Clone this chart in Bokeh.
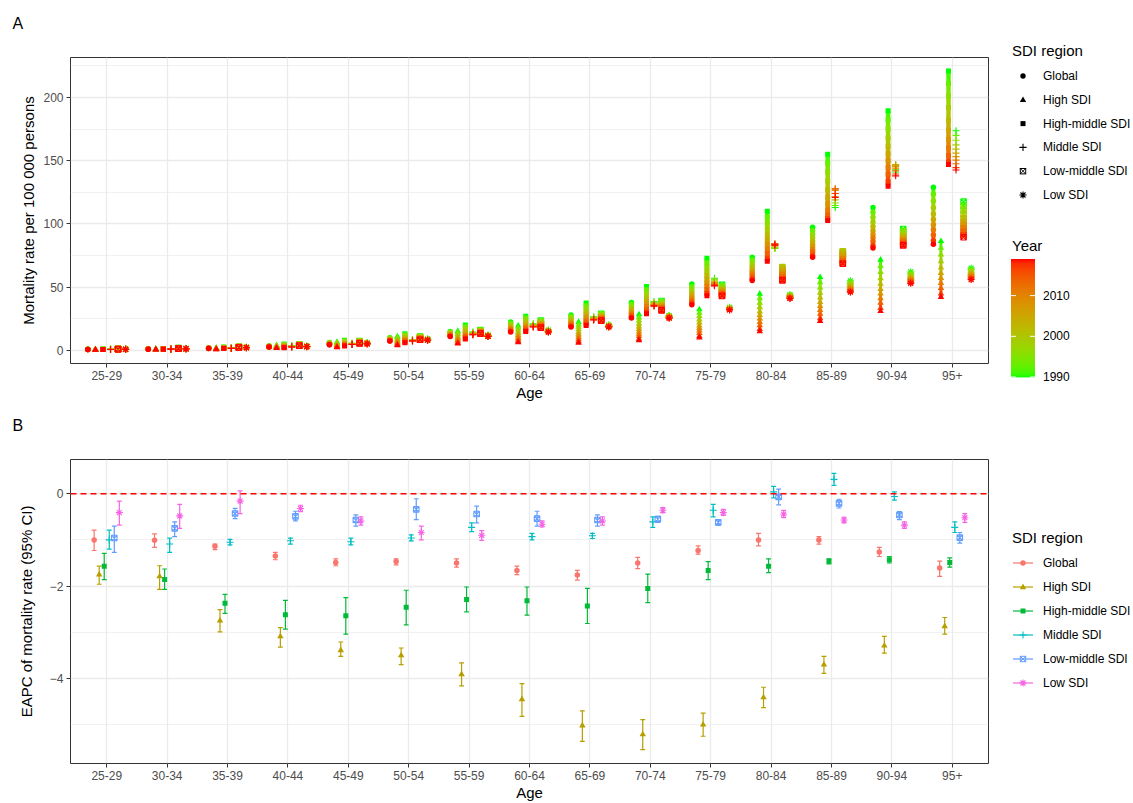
import numpy as np
import pandas as pd
from bokeh.plotting import figure
from bokeh.layouts import column, row
from bokeh.models import (FactorRange, Range1d, FixedTicker, ColumnDataSource, Span, Title,
                          LinearColorMapper, Div)
from bokeh.transform import dodge
from bokeh.embed import file_html
from bokeh.resources import INLINE

# ---------------- data ----------------
AGES = ["25-29", "30-34", "35-39", "40-44", "45-49", "50-54", "55-59", "60-64",
        "65-69", "70-74", "75-79", "80-84", "85-89", "90-94", "95+"]
REGIONS = ["Global", "High SDI", "High-middle SDI", "Middle SDI", "Low-middle SDI", "Low SDI"]
YEARS = [1990, 1993, 1996, 1999, 2002, 2005, 2008, 2011, 2014, 2017, 2019]

# mortality rate per 100 000, rows = AGES, columns = YEARS
RATE_GLOBAL = [
    [0.90, 0.86, 0.83, 0.79, 0.76, 0.73, 0.70, 0.68, 0.65, 0.62, 0.60],
    [1.30, 1.25, 1.20, 1.16, 1.11, 1.07, 1.04, 1.00, 0.96, 0.92, 0.90],
    [2.00, 1.94, 1.88, 1.82, 1.77, 1.72, 1.67, 1.63, 1.58, 1.53, 1.50],
    [3.50, 3.39, 3.28, 3.18, 3.08, 2.99, 2.91, 2.83, 2.74, 2.65, 2.60],
    [6.30, 6.07, 5.84, 5.62, 5.41, 5.22, 5.05, 4.88, 4.70, 4.51, 4.40],
    [10.0, 9.68, 9.35, 9.03, 8.73, 8.46, 8.22, 7.98, 7.73, 7.46, 7.30],
    [15.0, 14.5, 14.0, 13.6, 13.1, 12.7, 12.4, 12.0, 11.6, 11.2, 11.0],
    [22.4, 21.5, 20.5, 19.6, 18.7, 17.9, 17.2, 16.5, 15.8, 15.0, 14.5],
    [28.0, 26.8, 25.7, 24.5, 23.5, 22.5, 21.7, 20.8, 19.9, 19.0, 18.4],
    [37.9, 36.4, 34.9, 33.4, 32.1, 30.8, 29.7, 28.6, 27.5, 26.2, 25.5],
    [52.4, 50.4, 48.5, 46.5, 44.7, 43.1, 41.6, 40.1, 38.6, 37.0, 36.0],
    [73.7, 71.5, 69.3, 67.1, 65.1, 63.2, 61.6, 59.9, 58.2, 56.4, 55.3],
    [97.4, 94.6, 91.7, 88.9, 86.3, 83.9, 81.8, 79.6, 77.5, 75.1, 73.7],
    [113.0, 109.2, 105.3, 101.5, 98.0, 94.8, 91.9, 89.0, 86.1, 82.9, 81.0],
    [129.0, 123.6, 118.2, 112.8, 107.9, 103.4, 99.3, 95.3, 91.2, 86.7, 84.0],
]
RATE_HIGH = [
    [0.70, 0.66, 0.63, 0.59, 0.56, 0.53, 0.50, 0.48, 0.45, 0.42, 0.40],
    [1.00, 0.95, 0.90, 0.86, 0.81, 0.77, 0.74, 0.70, 0.66, 0.62, 0.60],
    [1.80, 1.68, 1.56, 1.44, 1.33, 1.23, 1.14, 1.05, 0.96, 0.86, 0.80],
    [4.00, 3.74, 3.47, 3.21, 2.97, 2.75, 2.55, 2.35, 2.15, 1.93, 1.80],
    [6.60, 6.08, 5.57, 5.05, 4.58, 4.15, 3.76, 3.38, 2.99, 2.56, 2.30],
    [11.0, 10.2, 9.3, 8.5, 7.7, 7.0, 6.4, 5.8, 5.1, 4.4, 4.0],
    [15.3, 14.1, 12.9, 11.7, 10.6, 9.6, 8.7, 7.8, 6.9, 5.9, 5.3],
    [19.5, 17.9, 16.3, 14.7, 13.3, 12.0, 10.8, 9.6, 8.4, 7.1, 6.3],
    [22.4, 20.4, 18.5, 16.5, 14.7, 13.1, 11.6, 10.1, 8.6, 7.0, 6.0],
    [28.4, 25.9, 23.5, 21.0, 18.8, 16.7, 14.9, 13.0, 11.2, 9.1, 7.9],
    [32.4, 29.7, 27.0, 24.3, 21.9, 19.6, 17.6, 15.6, 13.6, 11.3, 10.0],
    [44.7, 41.1, 37.6, 34.0, 30.7, 27.8, 25.1, 22.4, 19.7, 16.8, 15.0],
    [57.9, 53.7, 49.6, 45.4, 41.6, 38.1, 35.0, 31.9, 28.8, 25.3, 23.2],
    [71.6, 66.7, 61.9, 57.0, 52.5, 48.4, 44.8, 41.2, 37.5, 33.4, 31.0],
    [86.3, 81.0, 75.7, 70.4, 65.5, 61.1, 57.1, 53.2, 49.2, 44.8, 42.1],
]
RATE_HIGH_MIDDLE = [
    [1.00, 0.95, 0.90, 0.86, 0.81, 0.77, 0.74, 0.70, 0.66, 0.62, 0.60],
    [1.50, 1.43, 1.36, 1.28, 1.22, 1.16, 1.10, 1.05, 1.00, 0.94, 0.90],
    [2.60, 2.46, 2.31, 2.17, 2.04, 1.92, 1.81, 1.70, 1.59, 1.47, 1.40],
    [5.00, 4.64, 4.28, 3.92, 3.59, 3.29, 3.02, 2.75, 2.48, 2.18, 2.00],
    [8.00, 7.46, 6.92, 6.38, 5.89, 5.44, 5.03, 4.63, 4.22, 3.77, 3.50],
    [13.2, 12.3, 11.5, 10.6, 9.8, 9.1, 8.4, 7.8, 7.2, 6.4, 6.0],
    [20.0, 18.7, 17.4, 16.0, 14.8, 13.7, 12.7, 11.8, 10.8, 9.7, 9.0],
    [27.0, 25.6, 24.1, 22.7, 21.4, 20.2, 19.1, 18.0, 16.9, 15.7, 15.0],
    [37.4, 35.3, 33.2, 31.0, 29.1, 27.3, 25.7, 24.1, 22.5, 20.8, 19.7],
    [50.5, 47.9, 45.3, 42.8, 40.4, 38.2, 36.3, 34.4, 32.4, 30.3, 29.0],
    [72.9, 69.3, 65.8, 62.2, 58.9, 56.0, 53.3, 50.6, 47.9, 45.0, 43.2],
    [110.0, 105.3, 100.5, 95.8, 91.4, 87.5, 83.9, 80.4, 76.8, 72.9, 70.5],
    [155.0, 148.0, 141.0, 134.0, 127.0, 121.0, 116.0, 111.0, 107.0, 104.0, 102.6],
    [189.5, 182.3, 175.1, 168.0, 161.4, 155.4, 150.0, 144.6, 139.3, 133.3, 129.7],
    [221.0, 211.0, 201.0, 192.0, 182.0, 174.0, 167.0, 160.0, 154.0, 149.0, 147.0],
]
RATE_MIDDLE = [
    [0.90, 0.87, 0.84, 0.81, 0.78, 0.76, 0.74, 0.71, 0.69, 0.67, 0.65],
    [1.30, 1.26, 1.22, 1.17, 1.14, 1.10, 1.07, 1.04, 1.01, 0.97, 0.95],
    [2.00, 1.94, 1.88, 1.82, 1.77, 1.72, 1.67, 1.63, 1.58, 1.53, 1.50],
    [3.50, 3.40, 3.31, 3.21, 3.12, 3.04, 2.97, 2.90, 2.83, 2.75, 2.70],
    [5.60, 5.48, 5.36, 5.24, 5.13, 5.03, 4.94, 4.85, 4.76, 4.66, 4.60],
    [8.60, 8.46, 8.31, 8.17, 8.04, 7.92, 7.81, 7.70, 7.59, 7.47, 7.40],
    [14.5, 14.2, 14.0, 13.7, 13.5, 13.2, 13.0, 12.9, 12.7, 12.4, 12.3],
    [21.0, 20.7, 20.4, 20.1, 19.8, 19.6, 19.4, 19.1, 18.9, 18.7, 18.5],
    [26.5, 26.2, 25.9, 25.6, 25.3, 25.1, 24.9, 24.6, 24.4, 24.2, 24.0],
    [38.5, 38.1, 37.7, 37.2, 36.9, 36.5, 36.2, 35.9, 35.6, 35.2, 35.0],
    [57.0, 56.3, 55.6, 54.8, 54.2, 53.6, 53.0, 52.5, 52.0, 51.4, 51.0],
    [81.0, 80.5, 80.8, 81.5, 82.3, 83.0, 83.7, 84.2, 84.3, 83.8, 83.2],
    [113.0, 114.5, 116.5, 119.0, 121.5, 124.0, 126.5, 128.0, 127.5, 124.0, 121.0],
    [141.0, 143.0, 145.0, 146.5, 147.0, 146.5, 145.5, 144.0, 142.0, 139.5, 138.0],
    [173.7, 170.0, 166.2, 162.5, 159.1, 156.0, 153.2, 150.4, 147.6, 144.5, 142.6],
]
RATE_LOW_MIDDLE = [
    [1.20, 1.16, 1.13, 1.09, 1.06, 1.03, 1.00, 0.98, 0.95, 0.92, 0.90],
    [1.80, 1.75, 1.70, 1.66, 1.61, 1.57, 1.54, 1.50, 1.46, 1.42, 1.40],
    [2.80, 2.74, 2.68, 2.62, 2.57, 2.52, 2.47, 2.43, 2.38, 2.33, 2.30],
    [4.80, 4.66, 4.51, 4.37, 4.24, 4.12, 4.01, 3.90, 3.79, 3.67, 3.60],
    [7.40, 7.17, 6.94, 6.72, 6.51, 6.32, 6.15, 5.98, 5.80, 5.61, 5.50],
    [11.0, 10.7, 10.4, 10.1, 9.8, 9.5, 9.3, 9.1, 8.8, 8.6, 8.4],
    [16.0, 15.7, 15.3, 15.0, 14.7, 14.4, 14.2, 13.9, 13.6, 13.4, 13.2],
    [23.5, 22.8, 22.2, 21.5, 20.9, 20.4, 19.9, 19.4, 18.9, 18.3, 18.0],
    [29.0, 28.3, 27.7, 27.0, 26.4, 25.9, 25.4, 24.9, 24.4, 23.8, 23.5],
    [39.0, 38.1, 37.2, 36.3, 35.5, 34.8, 34.1, 33.5, 32.8, 32.0, 31.6],
    [51.8, 50.7, 49.7, 48.6, 47.7, 46.8, 46.0, 45.2, 44.4, 43.5, 43.0],
    [60.0, 62.0, 64.5, 65.8, 65.0, 63.5, 61.5, 59.5, 57.5, 56.0, 55.3],
    [75.0, 76.0, 77.5, 78.4, 77.5, 76.0, 74.0, 72.0, 70.5, 69.0, 68.5],
    [96.0, 94.4, 92.9, 91.3, 89.9, 88.6, 87.4, 86.3, 85.1, 83.8, 83.0],
    [117.6, 114.2, 110.9, 107.5, 104.4, 101.6, 99.1, 96.5, 94.0, 91.2, 89.5],
]
RATE_LOW = [
    [1.00, 0.98, 0.95, 0.93, 0.91, 0.89, 0.87, 0.85, 0.83, 0.81, 0.80],
    [1.50, 1.46, 1.43, 1.39, 1.36, 1.33, 1.30, 1.28, 1.25, 1.22, 1.20],
    [2.40, 2.36, 2.33, 2.29, 2.26, 2.23, 2.20, 2.18, 2.15, 2.12, 2.10],
    [3.30, 3.25, 3.20, 3.16, 3.11, 3.07, 3.04, 3.00, 2.96, 2.92, 2.90],
    [6.00, 5.89, 5.78, 5.68, 5.58, 5.49, 5.41, 5.33, 5.24, 5.15, 5.10],
    [9.00, 8.88, 8.76, 8.64, 8.53, 8.43, 8.34, 8.25, 8.16, 8.06, 8.00],
    [12.0, 11.9, 11.8, 11.6, 11.5, 11.4, 11.3, 11.3, 11.2, 11.1, 11.0],
    [16.0, 15.8, 15.6, 15.5, 15.3, 15.1, 15.0, 14.9, 14.7, 14.6, 14.5],
    [20.0, 19.8, 19.6, 19.5, 19.3, 19.1, 19.0, 18.9, 18.7, 18.6, 18.5],
    [27.5, 27.3, 27.0, 26.8, 26.6, 26.4, 26.2, 26.0, 25.8, 25.6, 25.5],
    [34.0, 33.8, 33.5, 33.3, 33.1, 32.9, 32.7, 32.5, 32.3, 32.1, 32.0],
    [44.0, 43.6, 43.3, 42.9, 42.6, 42.3, 42.0, 41.8, 41.5, 41.2, 41.0],
    [55.0, 53.9, 52.8, 51.8, 50.8, 49.9, 49.1, 48.3, 47.4, 46.5, 46.0],
    [62.0, 60.9, 59.8, 58.8, 57.8, 56.9, 56.1, 55.3, 54.4, 53.5, 53.0],
    [65.0, 63.9, 62.8, 61.8, 60.8, 59.9, 59.1, 58.3, 57.4, 56.5, 56.0],
]

# EAPC (%) with 95% CI, one value per age group
EAPC_GLOBAL = [-1.00, -1.01, -1.14, -1.35, -1.49, -1.47, -1.50, -1.66, -1.76, -1.50, -1.23, -1.00, -1.00, -1.26, -1.61]
LOW_GLOBAL = [-1.23, -1.16, -1.21, -1.43, -1.56, -1.54, -1.59, -1.75, -1.87, -1.62, -1.31, -1.13, -1.09, -1.36, -1.79]
UP_GLOBAL = [-0.79, -0.87, -1.09, -1.27, -1.41, -1.41, -1.41, -1.57, -1.66, -1.38, -1.13, -0.86, -0.93, -1.16, -1.46]
EAPC_HIGH = [-1.75, -1.79, -2.75, -3.09, -3.39, -3.50, -3.91, -4.45, -5.02, -5.21, -5.00, -4.41, -3.70, -3.29, -2.87]
LOW_HIGH = [-1.96, -2.07, -2.99, -3.32, -3.52, -3.70, -4.16, -4.82, -5.36, -5.54, -5.25, -4.63, -3.89, -3.45, -3.04]
UP_HIGH = [-1.57, -1.56, -2.51, -2.90, -3.21, -3.34, -3.66, -4.11, -4.70, -4.89, -4.75, -4.19, -3.52, -3.09, -2.68]
EAPC_HIGH_MIDDLE = [-1.57, -1.86, -2.37, -2.62, -2.64, -2.46, -2.29, -2.32, -2.43, -2.05, -1.66, -1.57, -1.46, -1.43, -1.49]
LOW_HIGH_MIDDLE = [-1.86, -2.07, -2.59, -2.93, -3.04, -2.84, -2.56, -2.63, -2.81, -2.36, -1.86, -1.71, -1.52, -1.50, -1.59]
UP_HIGH_MIDDLE = [-1.29, -1.63, -2.18, -2.31, -2.25, -2.09, -2.02, -2.02, -2.05, -1.74, -1.47, -1.41, -1.41, -1.36, -1.39]
EAPC_MIDDLE = [-1.00, -1.09, -1.05, -1.02, -1.04, -0.96, -0.73, -0.93, -0.91, -0.61, -0.36, 0.04, 0.31, -0.06, -0.73]
LOW_MIDDLE = [-1.20, -1.27, -1.11, -1.09, -1.11, -1.02, -0.82, -1.00, -0.97, -0.73, -0.50, -0.09, 0.18, -0.14, -0.84]
UP_MIDDLE = [-0.79, -0.96, -0.99, -0.96, -0.96, -0.89, -0.63, -0.86, -0.86, -0.50, -0.23, 0.16, 0.44, 0.04, -0.61]
EAPC_LOW_MIDDLE = [-0.96, -0.75, -0.43, -0.49, -0.57, -0.34, -0.44, -0.54, -0.57, -0.55, -0.62, -0.07, -0.21, -0.46, -0.95]
LOW_LOW_MIDDLE = [-1.27, -0.93, -0.54, -0.59, -0.70, -0.56, -0.63, -0.70, -0.70, -0.62, -0.68, -0.24, -0.31, -0.56, -1.07]
UP_LOW_MIDDLE = [-0.70, -0.61, -0.32, -0.38, -0.46, -0.11, -0.27, -0.38, -0.46, -0.49, -0.57, 0.10, -0.12, -0.39, -0.84]
EAPC_LOW = [-0.41, -0.48, -0.16, -0.32, -0.59, -0.84, -0.90, -0.66, -0.59, -0.36, -0.41, -0.44, -0.57, -0.68, -0.52]
LOW_LOW = [-0.68, -0.75, -0.43, -0.39, -0.68, -1.00, -1.01, -0.72, -0.68, -0.41, -0.47, -0.52, -0.63, -0.75, -0.62]
UP_LOW = [-0.16, -0.23, 0.06, -0.25, -0.50, -0.70, -0.80, -0.59, -0.50, -0.30, -0.34, -0.36, -0.51, -0.61, -0.43]

YEAR_TICKS = [1990, 2000, 2010]

# ---------------- styling ----------------
FONT = "Liberation Sans"
MARKERS = ["circle", "triangle", "square", "cross", "square_x", "asterisk"]
SIZES = [5.5, 6.5, 5.0, 7.0, 5.5, 7.0]
STEM_W = [4.0, 3.0, 4.5, 1.1, 4.5, 1.1]      # width of the year-to-year stems in panel A
OUTLINE_ONLY = ("cross", "asterisk", "square_x")
HUES = ["#F8766D", "#B79F00", "#00BA38", "#00BFC4", "#619CFF", "#F564E3"]
RATES = [RATE_GLOBAL, RATE_HIGH, RATE_HIGH_MIDDLE, RATE_MIDDLE, RATE_LOW_MIDDLE, RATE_LOW]
EAPCS = [EAPC_GLOBAL, EAPC_HIGH, EAPC_HIGH_MIDDLE, EAPC_MIDDLE, EAPC_LOW_MIDDLE, EAPC_LOW]
LOWS = [LOW_GLOBAL, LOW_HIGH, LOW_HIGH_MIDDLE, LOW_MIDDLE, LOW_LOW_MIDDLE, LOW_LOW]
UPS = [UP_GLOBAL, UP_HIGH, UP_HIGH_MIDDLE, UP_MIDDLE, UP_LOW_MIDDLE, UP_LOW]

# green -> red gradient interpolated in CIE Lab (like ggplot2)
_M = np.array([[0.4124564, 0.3575761, 0.1804375],
               [0.2126729, 0.7151522, 0.0721750],
               [0.0193339, 0.1191920, 0.9503041]])
_WHITE = np.array([0.95047, 1.0, 1.08883])
_D = 6 / 29


def to_lab(rgb):
    c = np.array(rgb, dtype=float) / 255.0
    lin = np.where(c <= 0.04045, c / 12.92, ((c + 0.055) / 1.055) ** 2.4)
    xyz = (_M @ lin) / _WHITE
    f = np.where(xyz > _D ** 3, np.cbrt(xyz), xyz / (3 * _D * _D) + 4 / 29)
    return np.array([116 * f[1] - 16, 500 * (f[0] - f[1]), 200 * (f[1] - f[2])])


def to_hex(lab):
    L, a, b = lab
    fy = (L + 16) / 116
    f = np.array([fy + a / 500, fy, fy - b / 200])
    xyz = np.where(f > _D, f ** 3, 3 * _D * _D * (f - 4 / 29)) * _WHITE
    lin = np.clip(np.linalg.inv(_M) @ xyz, 0, 1)
    c = np.where(lin <= 0.0031308, 12.92 * lin, 1.055 * lin ** (1 / 2.4) - 0.055)
    c = np.clip(c, 0, 1)
    return "#%02x%02x%02x" % tuple(int(round(v * 255)) for v in c)


_lo, _hi = to_lab((0, 255, 0)), to_lab((255, 0, 0))
PALETTE = [to_hex(_lo + (_hi - _lo) * t) for t in np.linspace(0, 1, 256)]
YEAR_MAPPER = LinearColorMapper(palette=PALETTE, low=1990, high=2019)

MAIN_W = 989      # frame 70..988
LEG_W = 1133 - MAIN_W


def make_main(height, ylab, yr, ticks, minor, border_top, border_bottom, tag, ylab_standoff):
    p = figure(width=MAIN_W, height=height,
               x_range=FactorRange(factors=AGES, range_padding=0.1, range_padding_units="absolute"),
               y_range=Range1d(*yr), toolbar_location=None, output_backend="svg",
               min_border_left=70, min_border_right=1, min_border_top=border_top,
               min_border_bottom=border_bottom)
    p.add_layout(Title(text=" ", text_font_size="8px"), "above")
    p.add_layout(Title(text=tag, text_font=FONT, text_font_size="16px", text_font_style="normal",
                       text_color="black", align="left", offset=-58), "above")
    p.outline_line_color = "#333333"
    p.outline_line_width = 1
    p.xgrid.grid_line_color = "#EBEBEB"
    p.xgrid.grid_line_width = 1.3
    p.ygrid.grid_line_color = "#EBEBEB"
    p.ygrid.grid_line_width = 1.3
    p.ygrid.minor_grid_line_color = "#EBEBEB"
    p.ygrid.minor_grid_line_width = 0.7
    p.yaxis.ticker = FixedTicker(ticks=ticks, minor_ticks=minor)
    for ax in (p.xaxis[0], p.yaxis[0]):
        ax.axis_line_color = None
        ax.major_tick_line_color = "#333333"
        ax.major_tick_in = 0
        ax.major_tick_out = 4
        ax.minor_tick_line_color = None
        ax.major_label_text_font = FONT
        ax.major_label_text_font_size = "12px"
        ax.major_label_text_color = "#4D4D4D"
        ax.major_label_standoff = 3
        ax.axis_label_text_font = FONT
        ax.axis_label_text_font_size = "15px"
        ax.axis_label_text_font_style = "normal"
        ax.axis_label_text_color = "black"
    p.xaxis.axis_label = "Age"
    p.xaxis.axis_label_standoff = 1
    p.yaxis.axis_label = ylab
    p.yaxis.axis_label_standoff = ylab_standoff
    return p


# ---------- legend drawing (inline SVG, coordinates local to the legend box) ----------
def svg_text(x, y, s, size):
    return (f'<text x="{x}" y="{y}" font-family="{FONT}" font-size="{size}px" fill="black" '
            f'dominant-baseline="central">{s}</text>')


def svg_marker(kind, cx, cy, color):
    if kind == "circle":
        return f'<circle cx="{cx}" cy="{cy}" r="2.7" fill="{color}"/>'
    if kind == "triangle":
        return (f'<polygon points="{cx},{cy - 3.4} {cx - 3.2},{cy + 2.2} {cx + 3.2},{cy + 2.2}" '
                f'fill="{color}"/>')
    if kind == "square":
        return f'<rect x="{cx - 2.5}" y="{cy - 2.5}" width="5" height="5" fill="{color}"/>'
    if kind == "cross":
        return (f'<path d="M{cx - 3.6},{cy} H{cx + 3.6} M{cx},{cy - 3.6} V{cy + 3.6}" '
                f'stroke="{color}" stroke-width="1.1" fill="none"/>')
    if kind == "square_x":
        return (f'<rect x="{cx - 2.7}" y="{cy - 2.7}" width="5.4" height="5.4" stroke="{color}" '
                f'stroke-width="1" fill="none"/>'
                f'<path d="M{cx - 2.7},{cy - 2.7} L{cx + 2.7},{cy + 2.7} M{cx - 2.7},{cy + 2.7} '
                f'L{cx + 2.7},{cy - 2.7}" stroke="{color}" stroke-width="0.9"/>')
    d = 2.5
    return (f'<path d="M{cx - 3.6},{cy} H{cx + 3.6} M{cx},{cy - 3.6} V{cy + 3.6} '
            f'M{cx - d},{cy - d} L{cx + d},{cy + d} M{cx - d},{cy + d} L{cx + d},{cy - d}" '
            f'stroke="{color}" stroke-width="1.1" fill="none"/>')


def legend_div(height, parts):
    body = "".join(parts)
    html = (f'<svg xmlns="http://www.w3.org/2000/svg" width="{LEG_W}" height="{height}" '
            f'style="display:block">{body}</svg>')
    return Div(text=html, width=LEG_W, height=height, margin=(0, 0, 0, 0))


X0 = MAIN_W  # page x of the legend box's left edge

# ---------------- Panel A ----------------
pA = make_main(405, "Mortality rate per 100 000 persons", (-10.4, 231.6),
               [0, 50, 100, 150, 200], [25, 75, 125, 175, 225], 57, 42, "A", 3)
cmap_year = {"field": "year", "transform": YEAR_MAPPER}
cmap_mid = {"field": "ymid", "transform": YEAR_MAPPER}
for i, (rate, mk, sz, sw) in enumerate(zip(RATES, MARKERS, SIZES, STEM_W)):
    off = (i - 2.5) * 0.75 / 6
    xpos = dodge("age", off, range=pA.x_range)
    # stems joining consecutive years of the same series
    stems = pd.DataFrame([(AGES[a], rate[a][k], rate[a][k + 1], (YEARS[k] + YEARS[k + 1]) / 2)
                          for k in range(len(YEARS) - 1) for a in range(len(AGES))],
                         columns=["age", "v0", "v1", "ymid"])
    pA.segment(x0=xpos, x1=xpos, y0="v0", y1="v1", source=ColumnDataSource(stems),
               line_color=cmap_mid, line_width=sw, line_cap="butt")
    pts = pd.DataFrame([(AGES[a], YEARS[k], rate[a][k]) for k in range(len(YEARS)) for a in range(len(AGES))],
                       columns=["age", "year", "rate"])
    src = ColumnDataSource(pts)
    if mk in OUTLINE_ONLY:
        pA.scatter(x=xpos, y="rate", source=src, marker=mk, size=sz,
                   line_color=cmap_year, fill_color=None, line_width=1.1)
    else:
        pA.scatter(x=xpos, y="rate", source=src, marker=mk, size=sz,
                   line_color=None, fill_color=cmap_year)

partsA = [svg_text(1012 - X0, 50, "SDI region", 15)]
for k, (name, mk) in enumerate(zip(REGIONS, MARKERS)):
    yy = 76 + 23.8 * k
    partsA.append(svg_marker(mk, 1023 - X0, round(yy, 1), "black"))
    partsA.append(svg_text(1043 - X0, round(yy, 1), name, 12))
partsA.append(svg_text(1012 - X0, 245, "Year", 15))
bar_top, bar_bot = 259.0, 377.0
n_slices = 118
for s in range(n_slices):
    frac = (s + 0.5) / n_slices          # 0 at bottom (1990) .. 1 at top (2019)
    col = PALETTE[int(round(frac * 255))]
    y = bar_bot - (s + 1) * (bar_bot - bar_top) / n_slices
    partsA.append(f'<rect x="{1011 - X0}" y="{y:.2f}" width="24" height="{(bar_bot - bar_top) / n_slices + 0.4:.2f}" '
                  f'fill="{col}"/>')
for t in YEAR_TICKS:
    ty = bar_bot - (t - 1990) / (2019 - 1990) * (bar_bot - bar_top)
    partsA.append(f'<path d="M{1011 - X0},{ty:.1f} h5 M{1030 - X0},{ty:.1f} h5" stroke="white" stroke-width="1"/>')
    partsA.append(svg_text(1043 - X0, round(ty, 1), str(t), 12))
legA = legend_div(405, partsA)

# ---------------- Panel B ----------------
pB = make_main(398, "EAPC of mortality rate (95% CI)", (-5.84, 0.74),
               [-4, -2, 0], [-5, -3, -1], 54, 38, "B", 12)
pB.add_layout(Span(location=0, dimension="width", line_color="#FF0000", line_dash="6 4", line_width=1.5))
for i, (ea, lo, up, col, mk, sz) in enumerate(zip(EAPCS, LOWS, UPS, HUES, MARKERS, SIZES)):
    off = (i - 2.5) * 0.5 / 6
    src = ColumnDataSource(dict(age=AGES, eapc=ea, lo=lo, up=up))
    xc = dodge("age", off, range=pB.x_range)
    xl = dodge("age", off - 0.04, range=pB.x_range)
    xr = dodge("age", off + 0.04, range=pB.x_range)
    pB.segment(x0=xc, x1=xc, y0="lo", y1="up", source=src, line_color=col, line_width=1.2)
    pB.segment(x0=xl, x1=xr, y0="lo", y1="lo", source=src, line_color=col, line_width=1.2)
    pB.segment(x0=xl, x1=xr, y0="up", y1="up", source=src, line_color=col, line_width=1.2)
    if mk in OUTLINE_ONLY:
        pB.scatter(x=xc, y="eapc", source=src, marker=mk, size=sz, line_color=col, fill_color=None, line_width=1.1)
    else:
        pB.scatter(x=xc, y="eapc", source=src, marker=mk, size=sz, line_color=None, fill_color=col)

YB = 405  # page y of panel B's top
partsB = [svg_text(1012 - X0, 537 - YB, "SDI region", 15)]
for k, (name, col, mk) in enumerate(zip(REGIONS, HUES, MARKERS)):
    yy = 563 + 24 * k - YB
    partsB.append(f'<path d="M{1013 - X0},{yy} H{1033 - X0}" stroke="{col}" stroke-width="1.2"/>')
    partsB.append(svg_marker(mk, 1023 - X0, yy, col))
    partsB.append(svg_text(1043 - X0, yy, name, 12))
legB = legend_div(398, partsB)

layout = column(row(pA, legA), row(pB, legB))
open("out.html", "w").write(file_html(layout, INLINE))
